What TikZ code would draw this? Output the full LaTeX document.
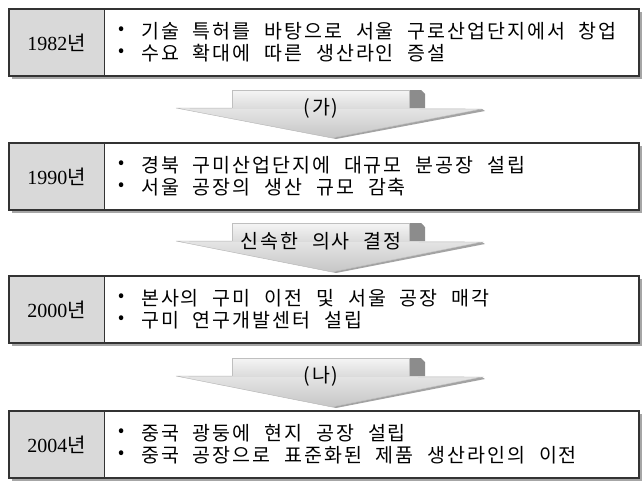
\documentclass[tikz,border=0pt]{standalone}
\usepackage{fontspec}
\setmainfont{Liberation Serif}
\newfontfamily\kr[LetterSpace=10,WordSpace=2.2]{Noto Sans CJK KR}
\newfontfamily\krplain{Noto Sans CJK KR}
\usetikzlibrary{shadings}
\definecolor{cellgray}{HTML}{D9D9D9}
\definecolor{shadowgray}{HTML}{A6A6A6}
\definecolor{framegray}{HTML}{333333}
\definecolor{sidegray}{HTML}{8C8C8C}
\tikzset{
  boxframe/.style={draw=framegray, line width=1.1pt},
  yearlbl/.style={font=\fontsize{20}{20}\selectfont, anchor=center},
  item/.style={font=\fontsize{19.5}{19.5}\kr, anchor=west, inner sep=0pt},
  bul/.style={font=\fontsize{18}{18}\krplain, anchor=center, inner sep=0pt},
  arrowlbl/.style={font=\fontsize{19.5}{19.5}\kr, anchor=center, inner sep=0pt},
}
\newcommand{\stagebox}[5]{% #1 top y, #2 year, #3 line1, #4 line2, #5 name
  \fill[shadowgray] (12,#1+3) rectangle (642,#1+70);
  \fill[white] (9,#1) rectangle (639,#1+67);
  \fill[cellgray] (9,#1) rectangle (104,#1+67);
  \draw[boxframe] (9,#1) rectangle (639,#1+67);
  \draw[framegray, line width=0.8pt] (104,#1) -- (104,#1+67);
  \node[yearlbl] (#5y) at (56.5,#1+34) {#2{\krplain 년}};
  \node[bul] (#5b1) at (122,#1+22) {•};
  \node[item] (#5t1) at (141,#1+22) {#3};
  \node[bul] (#5b2) at (122,#1+44) {•};
  \node[item] (#5t2) at (141,#1+44) {#4};
}
\newcommand{\stagearrow}[5]{% #1 stem top, #2 wing y, #3 tip y, #4 label, #5 name
  \fill[sidegray!80] (482,#2+1) -- (485,#2+3) -- (336,#3+1) -- (332,#3) -- cycle;
  \shade[top color=gray!20, bottom color=gray!45, draw=gray!60, line width=0.4pt]
     (176,#2) -- (482,#2+1) -- (332,#3) -- cycle;
  \fill[sidegray] (409,#1) -- (421,#1) -- (425,#1+4) -- (425,#2) -- (409,#2) -- cycle;
  \shade[top color=gray!8, bottom color=gray!28, draw=gray!50, line width=0.4pt]
     (232,#2) -- (232,#1) -- (409,#1) -- (409,#2);
  \node[arrowlbl] (#5) at (321,#2) {#4};
}
\begin{document}
\begin{tikzpicture}[x=1pt,y=-1pt]
\useasboundingbox (0,0) rectangle (642,480);
\stagebox{9}{1982}{기술 특허를 바탕으로 서울 구로산업단지에서 창업}{수요 확대에 따른 생산라인 증설}{s1}
\stagearrow{90}{108}{138}{(가)}{a1}
\stagebox{143}{1990}{경북 구미산업단지에 대규모 분공장 설립}{서울 공장의 생산 규모 감축}{s2}
\stagearrow{223}{241}{272}{신속한 의사 결정}{a2}
\stagebox{276}{2000}{본사의 구미 이전 및 서울 공장 매각}{구미 연구개발센터 설립}{s3}
\stagearrow{358}{376}{407}{(나)}{a3}
\stagebox{411}{2004}{중국 광둥에 현지 공장 설립}{중국 공장으로 표준화된 제품 생산라인의 이전}{s4}
\end{tikzpicture}
\end{document}
